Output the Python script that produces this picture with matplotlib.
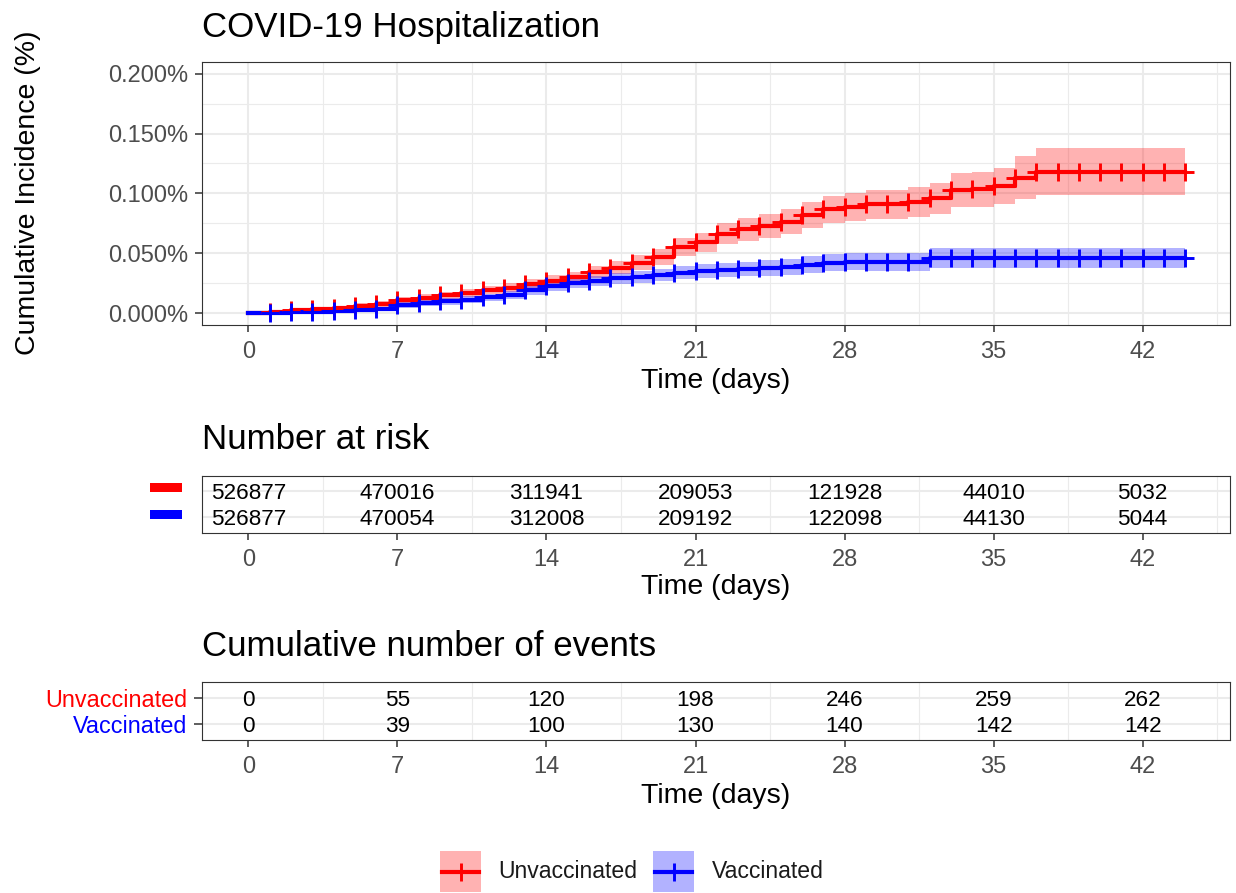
import matplotlib
matplotlib.use("Agg")
import matplotlib.pyplot as plt
from matplotlib.patches import Rectangle
from matplotlib.lines import Line2D

plt.rcParams['font.family'] = ['Liberation Sans', 'DejaVu Sans']

# ---------------- data ----------------
groups = ["Unvaccinated", "Vaccinated"]
colors = {"Unvaccinated": "#FF0000", "Vaccinated": "#0000FF"}

days = [0, 1, 2, 3, 4, 5, 6, 7, 8, 9, 10, 11, 12, 13, 14, 15, 16, 17, 18, 19, 20, 21,
        22, 23, 24, 25, 26, 27, 28, 29, 30, 31, 32, 33, 34, 35, 36, 37, 38, 39, 40, 41,
        42, 43, 44]

# cumulative incidence (%) and 95% CI, unvaccinated
unvax_est = [0.0000, 0.0008, 0.0022, 0.0033, 0.0042, 0.0061, 0.0078, 0.0106, 0.0128, 0.0147,
             0.0168, 0.0192, 0.0212, 0.0242, 0.0270, 0.0300, 0.0340, 0.0378, 0.0420, 0.0468,
             0.0550, 0.0593, 0.0663, 0.0700, 0.0728, 0.0764, 0.0819, 0.0867, 0.0889, 0.0908,
             0.0908, 0.0931, 0.0958, 0.1028, 0.1033, 0.1061, 0.1131, 0.1180, 0.1180, 0.1180,
             0.1180, 0.1180, 0.1180, 0.1180, 0.1180]
unvax_lo = [0.0000, 0.0000, 0.0010, 0.0018, 0.0024, 0.0040, 0.0054, 0.0078, 0.0098, 0.0115,
            0.0134, 0.0156, 0.0174, 0.0201, 0.0226, 0.0253, 0.0289, 0.0322, 0.0359, 0.0401,
            0.0476, 0.0514, 0.0577, 0.0606, 0.0630, 0.0662, 0.0711, 0.0753, 0.0772, 0.0788,
            0.0787, 0.0806, 0.0827, 0.0888, 0.0890, 0.0911, 0.0951, 0.0985, 0.0985, 0.0985,
            0.0985, 0.0985, 0.0985, 0.0985, 0.0985]
unvax_hi = [0.0000, 0.0016, 0.0034, 0.0048, 0.0060, 0.0082, 0.0102, 0.0134, 0.0158, 0.0179,
            0.0202, 0.0228, 0.0250, 0.0283, 0.0314, 0.0347, 0.0391, 0.0434, 0.0481, 0.0535,
            0.0624, 0.0672, 0.0749, 0.0794, 0.0826, 0.0866, 0.0927, 0.0981, 0.1006, 0.1028,
            0.1029, 0.1056, 0.1089, 0.1168, 0.1176, 0.1211, 0.1311, 0.1375, 0.1375, 0.1375,
            0.1375, 0.1375, 0.1375, 0.1375, 0.1375]

# cumulative incidence (%) and 95% CI, vaccinated
vax_est = [0.0000, 0.0002, 0.0006, 0.0011, 0.0017, 0.0025, 0.0036, 0.0070, 0.0083, 0.0097,
           0.0111, 0.0130, 0.0152, 0.0190, 0.0225, 0.0248, 0.0268, 0.0290, 0.0304, 0.0317,
           0.0336, 0.0352, 0.0362, 0.0368, 0.0375, 0.0385, 0.0405, 0.0420, 0.0430, 0.0430,
           0.0430, 0.0430, 0.0458, 0.0458, 0.0458, 0.0458, 0.0458, 0.0458, 0.0458, 0.0458,
           0.0458, 0.0458, 0.0458, 0.0458, 0.0458]
vax_lo = [0.0000, 0.0000, 0.0000, 0.0002, 0.0005, 0.0010, 0.0018, 0.0046, 0.0057, 0.0069,
          0.0081, 0.0098, 0.0117, 0.0152, 0.0184, 0.0205, 0.0223, 0.0242, 0.0254, 0.0265,
          0.0281, 0.0294, 0.0302, 0.0306, 0.0311, 0.0319, 0.0336, 0.0348, 0.0356, 0.0355,
          0.0355, 0.0355, 0.0375, 0.0375, 0.0375, 0.0375, 0.0375, 0.0375, 0.0375, 0.0375,
          0.0375, 0.0375, 0.0375, 0.0375, 0.0375]
vax_hi = [0.0000, 0.0004, 0.0012, 0.0020, 0.0029, 0.0040, 0.0054, 0.0094, 0.0109, 0.0125,
          0.0141, 0.0162, 0.0187, 0.0228, 0.0266, 0.0291, 0.0313, 0.0338, 0.0354, 0.0369,
          0.0391, 0.0410, 0.0422, 0.0430, 0.0439, 0.0451, 0.0474, 0.0492, 0.0504, 0.0505,
          0.0505, 0.0505, 0.0541, 0.0541, 0.0541, 0.0541, 0.0541, 0.0541, 0.0541, 0.0541,
          0.0541, 0.0541, 0.0541, 0.0541, 0.0541]

table_days = [0, 7, 14, 21, 28, 35, 42]
risk_unvax = [526877, 470016, 311941, 209053, 121928, 44010, 5032]
risk_vax = [526877, 470054, 312008, 209192, 122098, 44130, 5044]
events_unvax = [0, 55, 120, 198, 246, 259, 262]
events_vax = [0, 39, 100, 130, 140, 142, 142]

y_ticks = [0.0, 0.05, 0.10, 0.15, 0.20]
x_ticks = [0, 7, 14, 21, 28, 35, 42]

# ---------------- layout helpers ----------------
W, H = 1236, 893
fig = plt.figure(figsize=(W / 100, H / 100), dpi=100)


def rect(x0, y0, x1, y1):
    """Pixel box (top-left origin) -> figure fraction rect."""
    return [x0 / W, 1 - y1 / H, (x1 - x0) / W, (y1 - y0) / H]


def fx(x):
    return x / W


def fy(y):
    return 1 - y / H


GRID = "#EBEBEB"
DARK = "#333333"
TICKTXT = "#4D4D4D"
XLIM = (-2.2, 46.1)
TICK_FS = 17.0
LAB_FS = 20.5
TITLE_FS = 25.1
TABLE_FS = 16.2
TICK_LEN = 4.7
LEFT, RIGHT = 201.5, 1230
LINE_W = 3.0


def style_axes(ax):
    ax.set_facecolor("white")
    for s in ax.spines.values():
        s.set_color(DARK)
        s.set_linewidth(0.8)
    ax.set_xlim(*XLIM)
    ax.set_xticks(x_ticks)
    ax.set_xticks([3.5, 10.5, 17.5, 24.5, 31.5, 38.5, 45.5], minor=True)
    ax.tick_params(axis="x", which="major", length=TICK_LEN, width=1.1, color=DARK,
                   labelsize=TICK_FS, labelcolor=TICKTXT, pad=7.0)
    ax.tick_params(axis="x", which="minor", length=0)
    ax.set_axisbelow(True)


# ---------------- main curve panel ----------------
ax = fig.add_axes(rect(LEFT, 61.7, RIGHT, 325))
style_axes(ax)
ax.set_ylim(-0.01, 0.21)
ax.set_yticks(y_ticks)
ax.set_yticks([0.025, 0.075, 0.125, 0.175], minor=True)
ax.set_yticklabels([f"{v:.3f}%" for v in y_ticks])
ax.tick_params(axis="y", which="major", length=TICK_LEN, width=1.1, color=DARK,
               labelsize=TICK_FS, labelcolor=TICKTXT, pad=5)
ax.tick_params(axis="y", which="minor", length=0)
ax.grid(True, which="major", color=GRID, lw=1.5)
ax.grid(True, which="minor", color=GRID, lw=0.8)

series = {
    "Unvaccinated": (unvax_est, unvax_lo, unvax_hi),
    "Vaccinated": (vax_est, vax_lo, vax_hi),
}
for g in groups:
    est, lo, hi = series[g]
    ax.fill_between(days, lo, hi, step="post", color=colors[g], alpha=0.3, lw=0, zorder=2)
for g in groups:
    est, lo, hi = series[g]
    ax.step(days, est, where="post", color=colors[g], lw=LINE_W, zorder=3)
for g in groups:
    est, lo, hi = series[g]
    ax.plot(days[1:], est[1:], ls="none", marker="+", ms=12.5, mew=2.1,
            color=colors[g], zorder=4)

fig.text(fx(202), fy(27), "COVID-19 Hospitalization", ha="left", va="center",
         fontsize=TITLE_FS, color="black")
fig.text(fx(716), fy(381), "Time (days)", ha="center", va="center",
         fontsize=LAB_FS, color="black")
fig.text(fx(28), fy(193), "Cumulative Incidence (%)", ha="center", va="center",
         rotation=90, fontsize=LAB_FS, color="black")


# ---------------- tables ----------------
def table_axes(y0, y1, values_top, values_bottom):
    t = fig.add_axes(rect(LEFT, y0, RIGHT, y1))
    style_axes(t)
    t.set_ylim(0.4, 2.6)
    t.set_yticks([1, 2])
    t.grid(True, which="minor", axis="x", color=GRID, lw=0.8)
    t.grid(True, which="major", axis="y", color=GRID, lw=1.5)
    for d, a, b in zip(table_days, values_top, values_bottom):
        t.text(d, 2, str(a), ha="center", va="center_baseline", fontsize=TABLE_FS,
               color="black")
        t.text(d, 1, str(b), ha="center", va="center_baseline", fontsize=TABLE_FS,
               color="black")
    return t


risk_ax = table_axes(475.5, 532.7, risk_unvax, risk_vax)
risk_ax.tick_params(axis="y", length=0, labelleft=False)
# coloured strata bars in place of row names
for row_y, g in [(487.8, "Unvaccinated"), (514.8, "Vaccinated")]:
    fig.add_artist(Rectangle((fx(149.5), fy(row_y + 4.5)), 32 / W, 9 / H,
                             transform=fig.transFigure, facecolor=colors[g],
                             edgecolor="none"))
fig.text(fx(202), fy(440), "Number at risk", ha="left", va="center",
         fontsize=TITLE_FS, color="black")
fig.text(fx(716), fy(587), "Time (days)", ha="center", va="center",
         fontsize=LAB_FS, color="black")

ev_ax = table_axes(682.3, 739.5, events_unvax, events_vax)
ev_ax.set_yticklabels(["Vaccinated", "Unvaccinated"])
ev_ax.tick_params(axis="y", length=5.8, width=1.1, color=DARK, labelsize=16.8, pad=4.6)
for lab, g in zip(ev_ax.get_yticklabels(), ["Vaccinated", "Unvaccinated"]):
    lab.set_color(colors[g])
fig.text(fx(202), fy(647), "Cumulative number of events", ha="left", va="center",
         fontsize=TITLE_FS, color="black")
fig.text(fx(716), fy(796), "Time (days)", ha="center", va="center",
         fontsize=LAB_FS, color="black")

# ---------------- legend ----------------
for kx, tx, g in [(440, 498, "Unvaccinated"), (653, 712, "Vaccinated")]:
    fig.add_artist(Rectangle((fx(kx), fy(892)), 41 / W, 41 / H,
                             transform=fig.transFigure, facecolor=colors[g],
                             alpha=0.3, edgecolor="none"))
    fig.add_artist(Line2D([fx(kx + 2), fx(kx + 39)], [fy(871.5), fy(871.5)],
                          transform=fig.transFigure, color=colors[g], lw=LINE_W))
    fig.add_artist(Line2D([fx(kx + 20.5)], [fy(871.5)], transform=fig.transFigure,
                          color=colors[g], marker="+", ms=12.5, mew=2.1, ls="none"))
    fig.text(fx(tx), fy(871.5), g, ha="left", va="center", fontsize=16.6,
             color="#1A1A1A")

fig.savefig("out.png", dpi=100, facecolor="white")
